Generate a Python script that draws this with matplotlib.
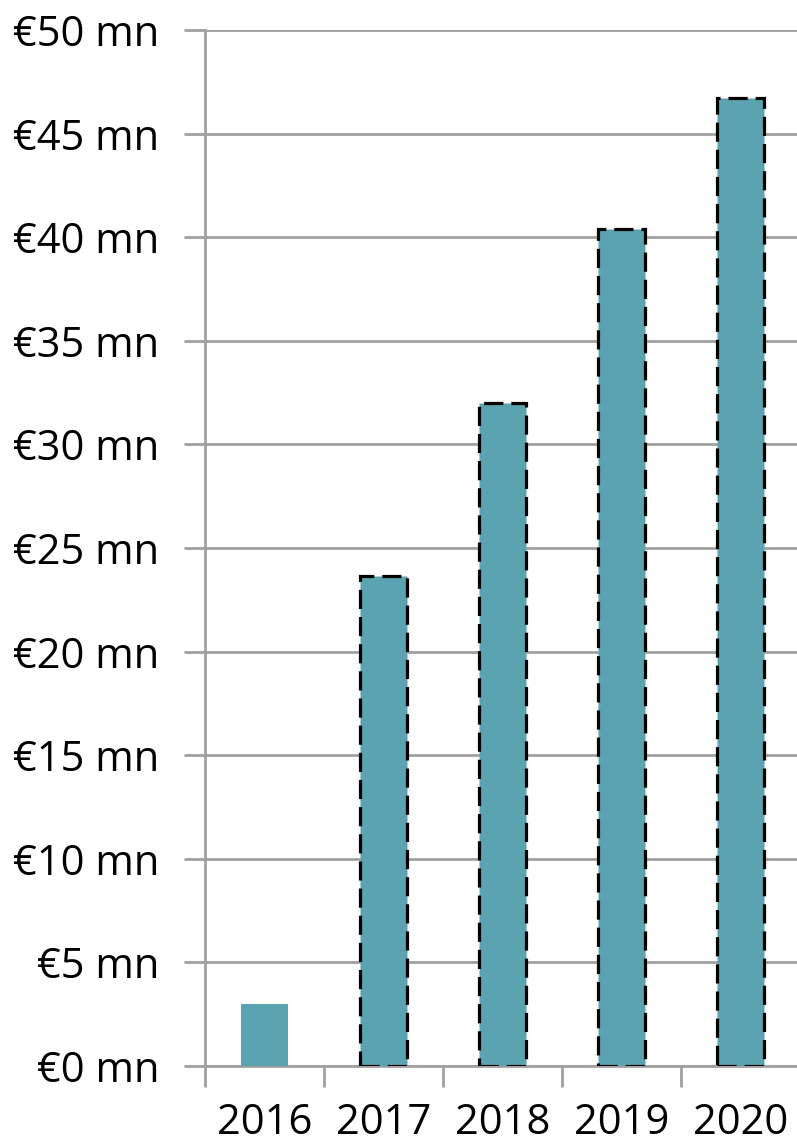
import matplotlib.pyplot as plt
import numpy as np

years = ['2016', '2017', '2018', '2019', '2020']
values = [3.0, 23.65, 32.0, 40.4, 46.7]
dashed = [False, True, True, True, True]
yticks = np.arange(0, 55, 5)

plt.rcParams['font.family'] = ['Open Sans', 'DejaVu Sans']

fig = plt.figure(figsize=(7.97, 11.46), dpi=100)
ax = fig.add_axes([205 / 797, 1 - 1066 / 1146, 595 / 797, 1036 / 1146])

bar_color = '#5BA3B0'
x = np.arange(len(years))
bars = ax.bar(x, values, width=0.40, color=bar_color, zorder=3)
for b, d in zip(bars, dashed):
    if d:
        b.set_edgecolor('black')
        b.set_linewidth(2.3)
        b.set_linestyle((0, (6, 2.5)))

ax.set_xlim(-0.5, 4.5)
ax.set_ylim(0, 50)
ax.set_yticks(yticks)
ax.set_yticklabels(['€%d mn' % v for v in yticks], fontsize=30)
ax.yaxis.grid(True, color='#A0A0A0', linewidth=2, zorder=0)

# category labels between boundary ticks
ax.set_xticks(np.arange(-0.5, 5, 1))
ax.set_xticklabels([])
ax.set_xticks(x, minor=True)
ax.set_xticklabels(years, minor=True, fontsize=30)
ax.tick_params(axis='x', which='minor', length=0, pad=26)
ax.tick_params(axis='x', which='major', length=15, width=2, color='#A0A0A0')
ax.tick_params(axis='y', length=15, width=2, color='#A0A0A0', pad=18)

for s in ['top', 'right']:
    ax.spines[s].set_visible(False)
for s in ['left', 'bottom']:
    ax.spines[s].set_color('#A0A0A0')
    ax.spines[s].set_linewidth(2)

fig.savefig('out.png', dpi=100)
